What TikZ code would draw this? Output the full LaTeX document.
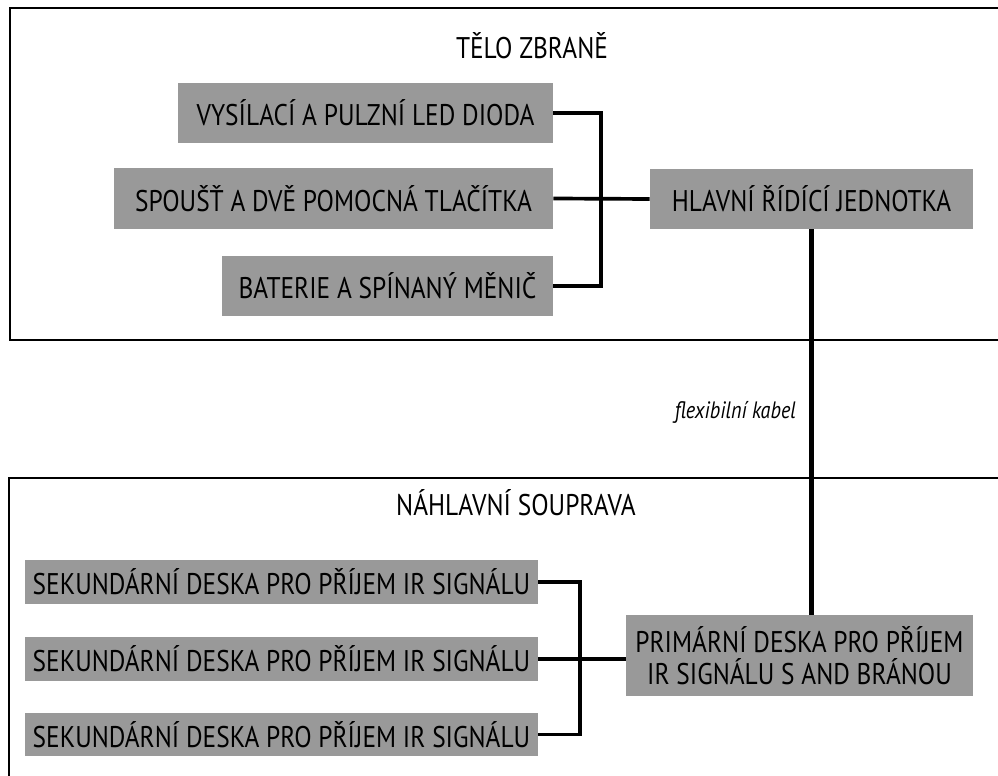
\documentclass[tikz,border=0pt]{standalone}
\usepackage{fontspec}
\setmainfont{PT Sans}[FakeStretch=0.85]
\definecolor{boxgray}{RGB}{153,153,153}

\begin{document}
\begin{tikzpicture}[
  x=0.02cm, y=-0.02cm,
  graybox/.style={rectangle, fill=boxgray, inner sep=0pt, align=center, font=\fontsize{17}{18.5}\selectfont},
  partbox/.style={graybox, minimum height=0.88cm, minimum width=10.26cm},
  framebox/.style={draw, line width=1.1pt},
  wire/.style={line width=2.1pt},
  cable/.style={line width=2.5pt}
]
\useasboundingbox (0,0) rectangle (998,776);

% Frames
\draw[framebox] (10,8) rectangle (1015,340);
\node[font=\fontsize{17}{18.5}\selectfont] (telo) at (532,46) {TĚLO ZBRANĚ};
\draw[framebox] (9,478) rectangle (1015,790);
\node[font=\fontsize{17}{18.5}\selectfont] (souprava) at (516,503) {NÁHLAVNÍ SOUPRAVA};

% Weapon nodes
\node[graybox, minimum width=7.5cm, minimum height=1.2cm] (dioda) at (365.5,113) {VYSÍLACÍ A PULZNÍ LED DIODA};
\node[graybox, minimum width=8.78cm, minimum height=1.22cm] (spoust) at (333.5,198.5) {SPOUŠŤ A DVĚ POMOCNÁ TLAČÍTKA};
\node[graybox, minimum width=6.62cm, minimum height=1.2cm] (baterie) at (387.5,286) {BATERIE A SPÍNANÝ MĚNIČ};
\node[graybox, minimum width=6.46cm, minimum height=1.2cm] (ridici) at (811.5,199) {HLAVNÍ ŘÍDÍCÍ JEDNOTKA};

% Headset nodes
\node[partbox] (sek1) at (281.5,582) {SEKUNDÁRNÍ DESKA PRO PŘÍJEM IR SIGNÁLU};
\node[partbox] (sek2) at (281.5,659) {SEKUNDÁRNÍ DESKA PRO PŘÍJEM IR SIGNÁLU};
\node[partbox] (sek3) at (281.5,734.5) {SEKUNDÁRNÍ DESKA PRO PŘÍJEM IR SIGNÁLU};
\node[graybox, minimum width=6.94cm, minimum height=1.62cm] (primarni) at (799.5,655.5) {PRIMÁRNÍ DESKA PRO PŘÍJEM\\IR SIGNÁLU S AND BRÁNOU};

% Wires
\draw[wire] (dioda.east) -- ++(48,0) |- (baterie.east);
\draw[wire] (spoust.east) -- (ridici.west);
\draw[wire] (sek1.east) -- ++(42,0) |- (sek3.east);
\draw[wire] (sek2.east) -- (primarni.west |- sek2.east);

% Cable
\draw[cable] (ridici.south) -- (ridici.south |- primarni.north);
\node[anchor=east, font=\fontsize{13.5}{15}\itshape] (kabel) at (802,412) {flexibilní kabel};

\end{tikzpicture}
\end{document}
